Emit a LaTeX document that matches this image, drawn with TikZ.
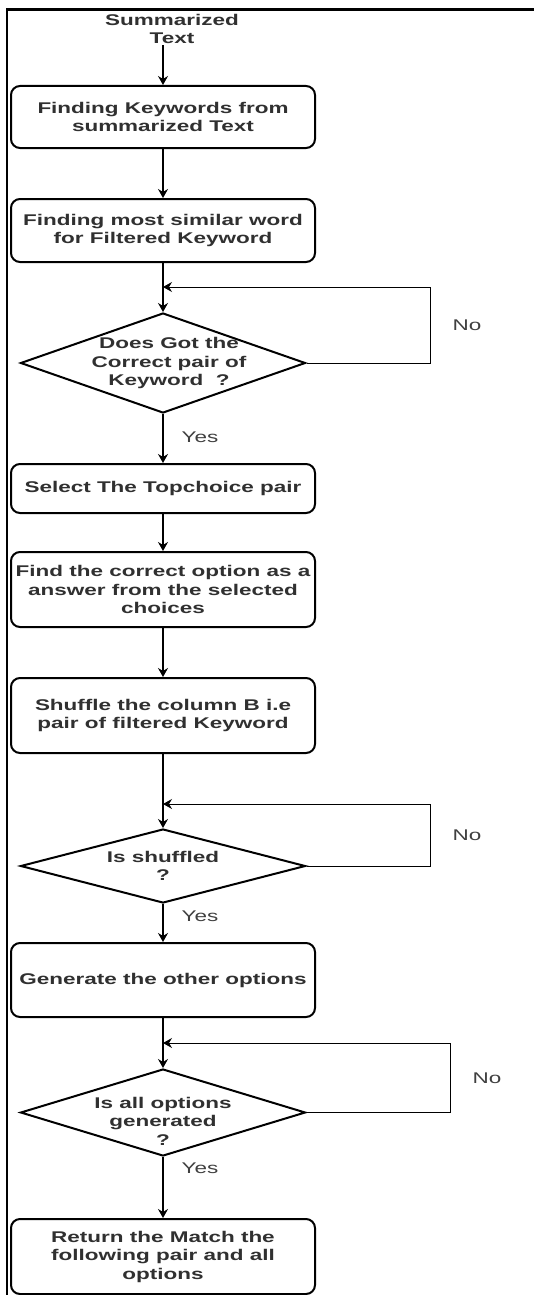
\documentclass[tikz,border=0pt]{standalone}
\usepackage{fontspec}
\newfontfamily\dfont[FakeStretch=1.45]{Liberation Sans}
\usetikzlibrary{arrows.meta,shapes.geometric}
\definecolor{txt}{HTML}{303030}
\definecolor{anstxt}{HTML}{404040}
\begin{document}
\begin{tikzpicture}[x=1pt,y=-1pt,
  every node/.style={font=\dfont\fontsize{15.5}{18.5}\selectfont, text=txt},
  boldtext/.style={align=center, inner sep=1pt, font=\dfont\bfseries\fontsize{15.5}{18.5}\selectfont},
  procbox/.style={boldtext, draw=black, line width=2pt, rounded corners=9pt,
    minimum width=304pt, inner sep=0pt},
  decision/.style={draw=black, line width=2pt, diamond, inner sep=0pt,
    minimum width=285pt},
  ans/.style={text=anstxt, inner sep=0pt},
  tip/.style={-{Stealth[length=9pt,width=10pt,inset=3pt]}},
  flow/.style={tip, line width=1.5pt},
  loopline/.style={tip, line width=1pt}
]
\useasboundingbox (0,0) rectangle (534,1295);
\fill[white] (0,0) rectangle (534,1295);

% outer frame (top and left edges)
\draw[line width=2.7pt, line join=miter] (534,9.7) -- (7,9.7) -- (7,1295);

% process steps
\node[boldtext] (start) at (172,29) {Summarized\\Text};
\node[procbox, minimum height=62pt] (b1) at (163,117) {Finding Keywords from\\summarized Text};
\node[procbox, minimum height=63pt] (b2) at (163,230.5) {Finding most similar word\\for Filtered Keyword};
\node[decision, minimum height=100pt] (d1) at (163,363) {};
\node[boldtext] (q1) at (169,363) {Does Got the\\Correct pair of\\Keyword\ \ ?};
\node[procbox, minimum height=49pt] (b3) at (163,488.5) {Select The Topchoice pair};
\node[procbox, minimum height=75pt] (b4) at (163,589.5) {Find the correct option as a\\answer from the selected\\choices};
\node[procbox, minimum height=75pt] (b5) at (163,715.5) {Shuffle the column B i.e\\pair of filtered Keyword};
\node[decision, minimum height=74pt] (d2) at (163,866) {};
\node[boldtext] (q2) at (163,866) {Is shuffled\\?};
\node[procbox, minimum height=74pt] (b6) at (163,980) {Generate the other options};
\node[decision, minimum height=87pt] (d3) at (163,1112.5) {};
\node[boldtext] (q3) at (163,1121) {Is all options\\generated\\?};
\node[procbox, minimum height=75pt] (b7) at (163,1256.5) {Return the Match the\\following pair and all\\options};

% junctions where the loops return
\coordinate (j1) at (163,287);
\coordinate (j2) at (163,804);
\coordinate (j3) at (163,1043);

% main flow
\draw[flow] (start.south -| b1.north) -- (b1);
\draw[flow] (b1) -- (b2);
\draw[flow] (b2) -- (d1);
\draw[flow] (d1) -- (b3);
\draw[flow] (b3) -- (b4);
\draw[flow] (b4) -- (b5);
\draw[flow] (b5) -- (d2);
\draw[flow] (d2) -- (b6);
\draw[flow] (b6) -- (d3);
\draw[flow] (d3) -- (b7);

% "No" loops
\draw[loopline] (d1.east) -- (430,363) |- (j1);
\draw[loopline] (d2.east) -- (430,866) |- (j2);
\draw[loopline] (d3.east) -- (450,1112.5) |- (j3);

% branch labels
\node[ans] (n1) at (467,325) {No};
\node[ans] (n2) at (467,835) {No};
\node[ans] (n3) at (487,1078) {No};
\node[ans] (y1) at (200,437) {Yes};
\node[ans] (y2) at (200,916) {Yes};
\node[ans] (y3) at (200,1168) {Yes};
\end{tikzpicture}
\end{document}
